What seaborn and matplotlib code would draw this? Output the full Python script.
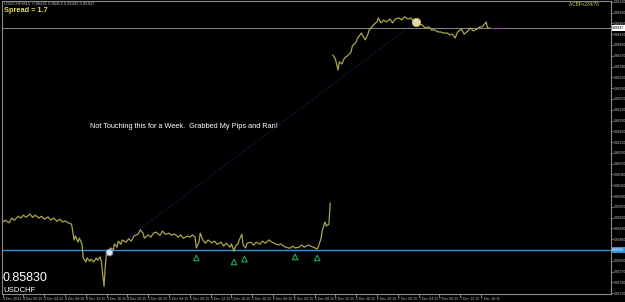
import matplotlib
matplotlib.use("Agg")
import matplotlib.pyplot as plt
import matplotlib.transforms as mtransforms
import seaborn as sns
import pandas as pd

# ---------------- data ----------------
symbol = "USDCHF"
level_price = 0.85830          # horizontal (blue) level
current_price = 0.86447        # current bid line

bars_before = [0, 2, 5, 7, 9, 12, 14, 16, 18, 21, 23, 25, 28, 30, 32, 35, 37, 39, 42, 44, 46, 48, 51, 53,
               55, 56, 58, 59, 61, 62, 64, 65, 67, 68, 70, 72, 73, 75, 76, 77, 78, 79, 80, 82, 83, 85, 86,
               88, 89, 91, 92, 95, 97, 99, 101, 104, 106, 108, 109, 112, 114, 116, 118, 121, 123, 125,
               128, 130, 132, 135, 137, 139, 142, 144, 146, 148, 149, 151, 152, 154, 156, 158, 161, 163,
               165, 168, 170, 172, 175, 176, 178, 179, 181, 182, 184, 185, 187, 188, 191, 193, 195, 198,
               200, 202, 205, 207, 209, 212, 214, 216, 218, 221, 223, 225, 228, 230, 232, 235, 237, 239,
               242, 243, 245, 246, 248, 249, 251, 252]
close_before = [0.85908, 0.85913, 0.85906, 0.85919, 0.85913, 0.85924, 0.85919, 0.85927, 0.85921, 0.85930,
                0.85921, 0.85927, 0.85919, 0.85924, 0.85916, 0.85922, 0.85913, 0.85919, 0.85910, 0.85916,
                0.85908, 0.85911, 0.85905, 0.85902,
                0.85858, 0.85869, 0.85852, 0.85863, 0.85847, 0.85808, 0.85797, 0.85808, 0.85799, 0.85805,
                0.85797, 0.85808, 0.85802, 0.85811, 0.85797, 0.85761, 0.85730, 0.85788, 0.85824, 0.85819,
                0.85836, 0.85830, 0.85847, 0.85838, 0.85855, 0.85846, 0.85858, 0.85852, 0.85861, 0.85855,
                0.85869, 0.85874, 0.85886, 0.85877, 0.85863, 0.85872, 0.85866, 0.85877, 0.85880, 0.85871,
                0.85883, 0.85874, 0.85877, 0.85871, 0.85875, 0.85866, 0.85872, 0.85863, 0.85869, 0.85866,
                0.85872, 0.85866, 0.85836, 0.85852, 0.85877, 0.85858, 0.85849, 0.85858, 0.85850, 0.85855,
                0.85846, 0.85852, 0.85841, 0.85849, 0.85838, 0.85847, 0.85827, 0.85841, 0.85847, 0.85858,
                0.85874, 0.85844, 0.85836, 0.85849, 0.85852, 0.85844, 0.85852, 0.85846, 0.85855, 0.85849,
                0.85858, 0.85852, 0.85849, 0.85844, 0.85847, 0.85841, 0.85838, 0.85835, 0.85841, 0.85836,
                0.85838, 0.85844, 0.85838, 0.85844, 0.85841, 0.85838, 0.85833, 0.85841, 0.85863, 0.85886,
                0.85908, 0.85897, 0.85902, 0.85961]

bars_after = [254, 256, 258, 259, 261, 263, 265, 268, 269, 272, 273, 275, 276, 278, 279, 281, 282, 284, 285,
              288, 289, 291, 293, 295, 298, 300, 302, 305, 307, 309, 312, 314, 316, 318, 321, 323, 325, 328,
              330, 332, 335, 337, 339, 342, 344, 346, 348, 350, 351, 353, 355, 358, 360, 362, 365, 367, 369,
              372, 373, 375]
close_after = [0.86372, 0.86361, 0.86330, 0.86353, 0.86347, 0.86364, 0.86369, 0.86380, 0.86397, 0.86408,
               0.86419, 0.86428, 0.86433, 0.86419, 0.86414, 0.86430, 0.86442, 0.86450, 0.86455, 0.86464,
               0.86475, 0.86461, 0.86469, 0.86464, 0.86472, 0.86461, 0.86472, 0.86475, 0.86469, 0.86478,
               0.86472, 0.86475, 0.86466, 0.86464, 0.86458, 0.86455, 0.86447, 0.86450, 0.86441, 0.86442,
               0.86436, 0.86436, 0.86433, 0.86433, 0.86428, 0.86430, 0.86419, 0.86436, 0.86439, 0.86444,
               0.86430, 0.86439, 0.86447, 0.86439, 0.86444, 0.86450, 0.86450, 0.86464, 0.86447, 0.86447]

entry_bar, entry_price = 82, 0.85824
exit_bar, exit_price = 318, 0.86464
arrow_bars = [149, 178, 186, 225, 242]
arrow_prices = [0.85808, 0.85797, 0.85805, 0.85811, 0.85808]

time_tick_bars = [16 * k for k in range(24)]
time_tick_labels = ["3 Dec 2012", "4 Dec 00:15", "4 Dec 04:15", "4 Dec 08:15", "4 Dec 12:15", "4 Dec 16:15",
                    "4 Dec 20:15", "5 Dec 00:15", "5 Dec 04:15", "5 Dec 08:15", "5 Dec 12:15", "5 Dec 16:15",
                    "5 Dec 20:15", "6 Dec 00:15", "6 Dec 04:15", "6 Dec 08:15", "6 Dec 12:15", "6 Dec 16:15",
                    "6 Dec 20:15", "7 Dec 00:15", "7 Dec 04:15", "7 Dec 08:15", "7 Dec 12:15", "7 Dec 16:15"]
price_ticks = [round(level_price + 0.0003 * k, 5) for k in range(-4, 24) if k != 0]

header_text = "USDCHF,M15  0.86441 0.86452 0.86436 0.86447"
spread_text = "Spread = 1.7"
corner_text = "A:CBP+234/78"
note_text = "Not Touching this for a Week.  Grabbed My Pips and Ran!"

# ---------------- plot ----------------
sns.set_style("dark", {"axes.facecolor": "black", "figure.facecolor": "black"})
plt.rcParams["font.family"] = ["Liberation Sans", "DejaVu Sans"]

fig = plt.figure(figsize=(6.25, 3.02), dpi=100)
ax = fig.add_axes([2 / 625, 1 - 294 / 302, 609 / 625, 293 / 302])
ax.set_facecolor("black")

line_col = "#aaa64c"
df1 = pd.DataFrame({"bar": bars_before, "close": close_before})
df2 = pd.DataFrame({"bar": bars_after, "close": close_after})
sns.lineplot(data=df1, x="bar", y="close", ax=ax, color=line_col, lw=0.9)
sns.lineplot(data=df2, x="bar", y="close", ax=ax, color=line_col, lw=0.9)

ax.axhline(level_price, color="#2f95d8", lw=1.0, zorder=1)
ax.axhline(current_price, color="#8a8a8a", lw=0.7, zorder=1)
ax.plot([entry_bar, exit_bar], [entry_price, exit_price], color="#22226e", lw=0.8, ls=":", zorder=1)
ax.plot([374, 386], [current_price, current_price], color="#b030b0", lw=0.8, ls=(0, (1, 1)), zorder=2)

sns.scatterplot(x=[entry_bar], y=[entry_price], ax=ax, s=22, color="#dfe6f0", edgecolor="#6a9ad0",
                linewidth=0.8, zorder=5)
sns.scatterplot(x=[exit_bar], y=[exit_price], ax=ax, s=36, color="#e6d8a2", edgecolor="#c8b870",
                linewidth=0.6, zorder=5)
sns.scatterplot(x=arrow_bars, y=arrow_prices, ax=ax, marker="^", s=16, facecolor="none",
                edgecolor="#1fa84a", linewidth=0.8, zorder=5)

ax.set_xlim(-0.5, 468)
ax.set_ylim(0.85708, 0.86522)

ax.set_xlabel("")
ax.set_ylabel("")
ax.yaxis.tick_right()
ax.set_yticks(price_ticks)
ax.set_yticklabels([f"{p:.5f}" for p in price_ticks])
ax.set_xticks(time_tick_bars)
ax.set_xticklabels(time_tick_labels)
ax.tick_params(axis="y", colors="#c0c0c0", labelsize=2.4, length=1.2, width=0.5, pad=0.6, right=True, left=False)
ax.tick_params(axis="x", colors="#c0c0c0", labelsize=2.5, length=2, width=0.5, pad=0.5, bottom=True)
for lab in ax.get_xticklabels():
    lab.set_horizontalalignment("left")
for sp in ax.spines.values():
    sp.set_color("#8a8a8a")
    sp.set_linewidth(0.8)
ax.grid(False)

trans = mtransforms.blended_transform_factory(ax.transAxes, ax.transData)
ax.text(1.002, level_price, f"{level_price:.5f}", transform=trans, fontsize=2.4, color="white",
        va="center", ha="left", bbox=dict(boxstyle="square,pad=0.2", fc="#2f95d8", ec="none"))
ax.text(1.002, current_price, f"{current_price:.5f}", transform=trans, fontsize=2.4, color="black",
        va="center", ha="left", bbox=dict(boxstyle="square,pad=0.2", fc="white", ec="none"))

fig.text(4 / 625, 1 - 4 / 302, header_text, fontsize=3.0, color="#bbbbbb", va="center", ha="left")
fig.text(4 / 625, 1 - 10 / 302, spread_text, fontsize=5.3, color="#e8e04a", va="center", ha="left",
         fontweight="bold")
fig.text(600 / 625, 1 - 5 / 302, corner_text, fontsize=3.3, color="#c8d050", va="center", ha="right")
fig.text(90 / 625, 1 - 126 / 302, note_text, fontsize=5.3, color="white", va="center", ha="left")
fig.text(3 / 625, 1 - 278 / 302, f"{level_price:.5f}", fontsize=9, color="white", va="center", ha="left")
fig.text(3 / 625, 1 - 291 / 302, symbol, fontsize=5.6, color="white", va="center", ha="left")

fig.savefig("out.png", dpi=100, facecolor="black")
